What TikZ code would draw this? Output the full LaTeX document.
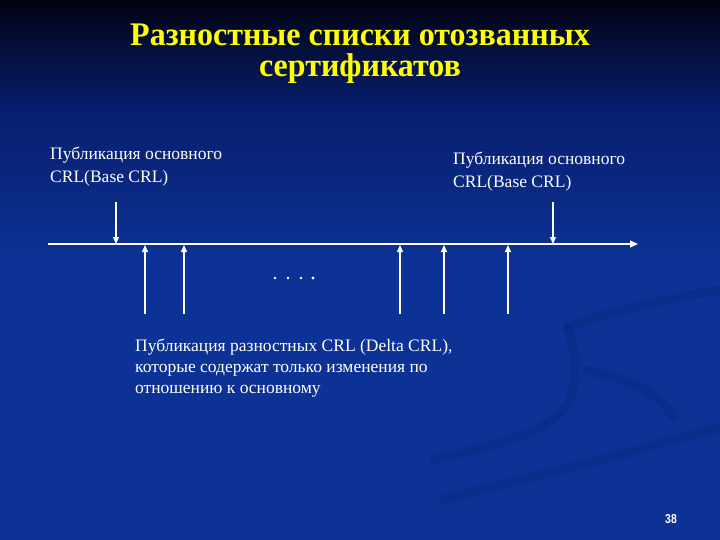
\documentclass[tikz,border=0pt]{standalone}
\usepackage{fontspec}
\setmainfont{Liberation Serif}
\newfontfamily\titlefont{Liberation Serif}[BoldFont={Liberation Serif Bold}]
\newfontfamily\numfont{Liberation Sans}[BoldFont={Liberation Sans Bold}]
\usetikzlibrary{arrows.meta}
\definecolor{bgtop}{RGB}{1,3,18}
\definecolor{bgmid}{RGB}{8,30,110}
\definecolor{bgblue}{RGB}{11,50,148}
\definecolor{bgswoosh}{RGB}{6,36,115}
\definecolor{titleyellow}{RGB}{255,255,0}
\tikzset{
  lbl/.style={anchor=base west, inner sep=0pt, text=white, font=\fontsize{17.5}{22}\selectfont},
  ttl/.style={inner sep=0pt, align=center, text=titleyellow, font=\titlefont\fontsize{33}{31}\selectfont\bfseries, xscale=0.97},
  arr/.style={draw=white, line width=1.2pt, -{Triangle[width=6pt,length=7pt]}},
  axis/.style={draw=white, line width=1.2pt, -{Triangle[width=7pt,length=8pt]}},
  swoosh/.style={draw=bgswoosh, line width=9pt, line cap=round, opacity=0.3}
}
\begin{document}
\begin{tikzpicture}[x=1pt,y=-1pt]
\useasboundingbox (0,0) rectangle (720,540);
% background
\fill[bgblue] (0,0) rectangle (720,540);
\shade[top color=bgtop, bottom color=bgmid] (0,0) rectangle (720,110);
\shade[top color=bgmid, bottom color=bgblue] (0,110) rectangle (720,260);
% faint swoosh
\draw[swoosh] (443,500) .. controls (540,475) and (640,450) .. (720,427);
\draw[swoosh] (433,460) .. controls (500,445) and (560,430) .. (572,395) .. controls (578,370) and (575,345) .. (567,327);
\draw[swoosh] (587,370) .. controls (620,378) and (660,390) .. (673,417);
\draw[swoosh] (567,327) .. controls (600,315) and (660,300) .. (720,290);
% title
\node[ttl, anchor=north] (title) at (360,24) {Разностные списки отозванных\\сертификатов};
% labels
\node[lbl] (b1a) at (50,160) {Публикация основного};
\node[lbl] (b1b) at (50,183) {CRL(Base CRL)};
\node[lbl] (b2a) at (453,165) {Публикация основного};
\node[lbl] (b2b) at (453,188) {CRL(Base CRL)};
\node[lbl] (d1) at (135,351) {Публикация разностных CRL (Delta CRL),};
\node[lbl] (d2) at (135,372) {которые содержат только изменения по};
\node[lbl] (d3) at (135,393) {отношению к основному};
% timeline
\coordinate (ax0) at (48,244);
\coordinate (ax1) at (638,244);
\draw[axis] (ax0) -- (ax1);
% base CRL arrows
\coordinate (bs1) at (116,202); \coordinate (be1) at (116,244);
\coordinate (bs2) at (553,202); \coordinate (be2) at (553,244);
\draw[arr] (bs1) -- (be1);
\draw[arr] (bs2) -- (be2);
% delta CRL arrows
\foreach \i/\x in {1/145,2/184,3/400,4/444,5/508}{
  \coordinate (us\i) at (\x,314);
  \coordinate (ue\i) at (\x,245);
  \draw[arr] (us\i) -- (ue\i);
}
% dots
\foreach \x/\r in {275/1.4,288/1.4,301/1.4,313/1.7}{
  \fill[white] (\x,278) circle (\r);
}
% page number
\node[anchor=base, inner sep=0pt, text=white, font=\numfont\fontsize{13}{13}\selectfont\bfseries, xscale=0.8] (pg) at (671,523) {38};
\end{tikzpicture}
\end{document}
